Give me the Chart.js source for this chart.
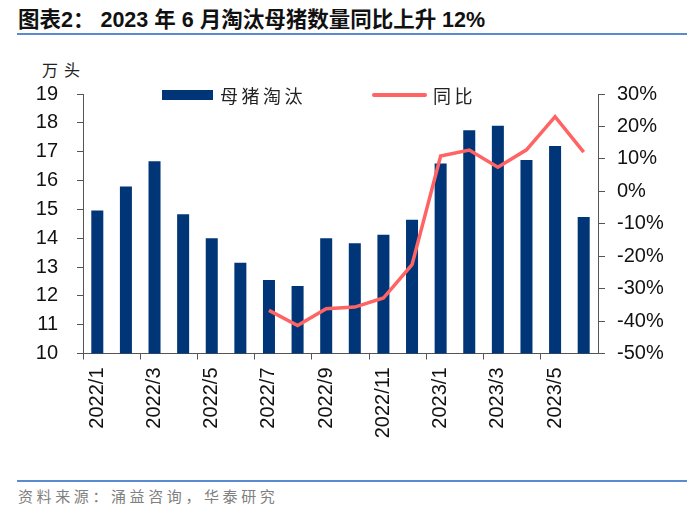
<!DOCTYPE html>
<html>
<head>
<meta charset="utf-8">
<script src="https://cdn.jsdelivr.net/npm/chart.js@4.4.0/dist/chart.umd.min.js"></script>
<style>
  body { margin: 0; background: #fff; width: 700px; height: 514px; position: relative; overflow: hidden; font-family: "Liberation Sans", "Noto Sans CJK SC", sans-serif; }
  .abs { position: absolute; white-space: nowrap; }
  #titre { left: 18px; top: 9px; font-size: 21.5px; line-height: 22px; font-weight: bold; color: #111; }
  .riga { left: 17px; width: 670px; height: 2px; background: #5a8ad0; }
  #fonte { left: 18px; top: 487px; font-size: 15px; line-height: 18px; letter-spacing: 3.6px; color: #808080; font-family: "Noto Sans CJK SC", sans-serif; }
  #unita { left: 42px; top: 60px; font-size: 16px; line-height: 18px; letter-spacing: 6px; color: #222; font-family: "Noto Sans CJK SC", sans-serif; }
  .leg { font-size: 18px; line-height: 20px; letter-spacing: 3.5px; color: #222; font-family: "Noto Sans CJK SC", sans-serif; }
  #box { position: absolute; left: 0; top: 0; width: 700px; height: 470px; }
</style>
</head>
<body>
<div id="titre" class="abs">图表2： 2023 年 6 月淘汰母猪数量同比上升 12%</div>
<div class="abs riga" style="top:32.5px"></div>
<div id="unita" class="abs">万头</div>
<div id="box"><canvas id="grafico"></canvas></div>
<div class="abs" style="left:162px; top:90px; width:51px; height:10px; background:#003677"></div>
<div class="abs leg" style="left:220px; top:85px">母猪淘汰</div>
<div class="abs" style="left:372px; top:92.5px; width:55px; height:4px; border-radius:2px; background:#ff6363"></div>
<div class="abs leg" style="left:433px; top:85px">同比</div>
<div class="abs riga" style="top:480px"></div>
<div id="fonte" class="abs">资料来源：涌益咨询，华泰研究</div>

<script>
  // Dati
  var mesi = ['2022/1', '2022/2', '2022/3', '2022/4', '2022/5', '2022/6', '2022/7', '2022/8', '2022/9',
              '2022/10', '2022/11', '2022/12', '2023/1', '2023/2', '2023/3', '2023/4', '2023/5', '2023/6'];
  // Scrofe eliminate (万头)
  var scrofeEliminate = [14.96, 15.79, 16.67, 14.83, 14.0, 13.15, 12.55, 12.34, 14.0,
                         13.82, 14.12, 14.64, 16.59, 17.74, 17.90, 16.71, 17.20, 14.73];
  // Variazione annua (%)
  var variazioneAnnua = [null, null, null, null, null, null, -36.7, -41.4, -36.2,
                         -35.7, -32.9, -22.6, 10.9, 12.7, 7.4, 12.8, 23.0, 12.1];
  var tickSinistra = { min: 10, max: 19, passo: 1 };
  var tickDestra = { min: -50, max: 30, passo: 10 };

  var coloreAsse = '#555555';
  var fontAssi = { family: 'Liberation Sans', size: 20 };

  var canvas = document.getElementById('grafico').getContext('2d');

  var grafico = new Chart(canvas, {
    type: 'bar',
    data: {
      labels: mesi,
      datasets: [{
        type: 'line',
        label: '同比',
        data: variazioneAnnua,
        yAxisID: 'y1',
        borderColor: '#ff6363',
        backgroundColor: '#ff6363',
        borderWidth: 3.5,
        pointRadius: 0,
        tension: 0,
        order: 1
      }, {
        label: '母猪淘汰',
        data: scrofeEliminate,
        yAxisID: 'y',
        backgroundColor: '#003677',
        barPercentage: 0.42,
        categoryPercentage: 1,
        order: 2
      }]
    },
    options: {
      responsive: true,
      maintainAspectRatio: false,
      animation: false,
      layout: { padding: { top: 94, left: 0, right: 0, bottom: 0 } },
      plugins: { legend: { display: false }, tooltip: { enabled: false } },
      scales: {
        x: {
          offset: true,
          afterFit: function (s) { s.height = 470 - 353.5; },
          border: { display: true, color: coloreAsse, width: 1 },
          grid: {
            offset: true,
            drawOnChartArea: false,
            drawTicks: true,
            tickLength: 6,
            color: function (ctx) { return ctx.index % 2 === 0 ? coloreAsse : 'rgba(0,0,0,0)'; }
          },
          ticks: {
            autoSkip: false,
            minRotation: 90,
            maxRotation: 90,
            padding: 8,
            color: '#111',
            font: fontAssi,
            callback: function (v, i) { return i % 2 === 0 ? this.getLabelForValue(v) : ''; }
          }
        },
        y: {
          position: 'left',
          min: tickSinistra.min,
          max: tickSinistra.max,
          afterFit: function (s) { s.width = 83; },
          border: { display: true, color: coloreAsse, width: 1 },
          grid: { drawOnChartArea: false, tickLength: 6, color: coloreAsse },
          ticks: { stepSize: tickSinistra.passo, padding: 19, color: '#111', font: fontAssi }
        },
        y1: {
          position: 'right',
          min: tickDestra.min,
          max: tickDestra.max,
          afterFit: function (s) { s.width = 700 - 598; },
          border: { display: true, color: coloreAsse, width: 1 },
          grid: { drawOnChartArea: false, tickLength: 7, color: coloreAsse },
          ticks: {
            stepSize: tickDestra.passo,
            padding: 12,
            color: '#111',
            font: fontAssi,
            callback: function (v) { return v + '%'; }
          }
        }
      }
    }
  });
</script>
</body>
</html>
